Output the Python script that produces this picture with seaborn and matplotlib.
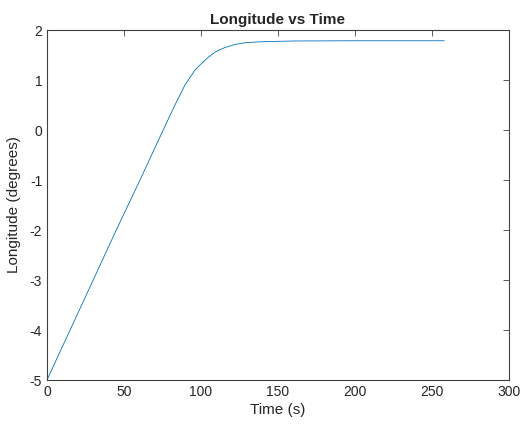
import numpy as np
import pandas as pd
import seaborn as sns
import matplotlib
matplotlib.use('Agg')
import matplotlib.pyplot as plt

# values
time_s = [0, 15, 30, 45, 60.4, 75, 83.1, 89.6, 96.1, 102.6, 109.1, 115.6,
          122.1, 128.6, 136, 145, 160, 200, 258]
longitude_deg = [-5.0, -4.0, -3.0, -2.0, -1.0, -0.03, 0.50, 0.90, 1.20, 1.40,
                 1.56, 1.65, 1.71, 1.745, 1.76, 1.77, 1.78, 1.785, 1.785]

df = pd.DataFrame({'t': time_s, 'lon': longitude_deg})

sns.set_style('white')
plt.rcParams['font.family'] = ['Liberation Sans', 'DejaVu Sans']
plt.rcParams['axes.unicode_minus'] = False

fig = plt.figure(figsize=(5.21, 4.25), dpi=100)
ax = fig.add_axes([47 / 521, 45 / 425, 462 / 521, 350 / 425])

sns.lineplot(data=df, x='t', y='lon', ax=ax, color='#0072BD', linewidth=0.6,
             estimator=None, sort=False)

ax.set_xlim(0, 300)
ax.set_ylim(-5, 2)
ax.set_xticks(range(0, 301, 50))
ax.set_yticks(range(-5, 3))
ax.set_xlabel('Time (s)', fontsize=11, color='#262626', labelpad=3)
ax.set_ylabel('Longitude (degrees)', fontsize=11, color='#262626', labelpad=6)
ax.set_title('Longitude vs Time', fontsize=11, fontweight='bold', pad=4)

for s in ax.spines.values():
    s.set_visible(True)
    s.set_color('#404040')
    s.set_linewidth(0.8)
ax.tick_params(direction='in', length=4, width=0.6, colors='#404040',
               top=True, right=True, labelsize=10, labelcolor='#262626')

plt.savefig('out.png', dpi=100)
